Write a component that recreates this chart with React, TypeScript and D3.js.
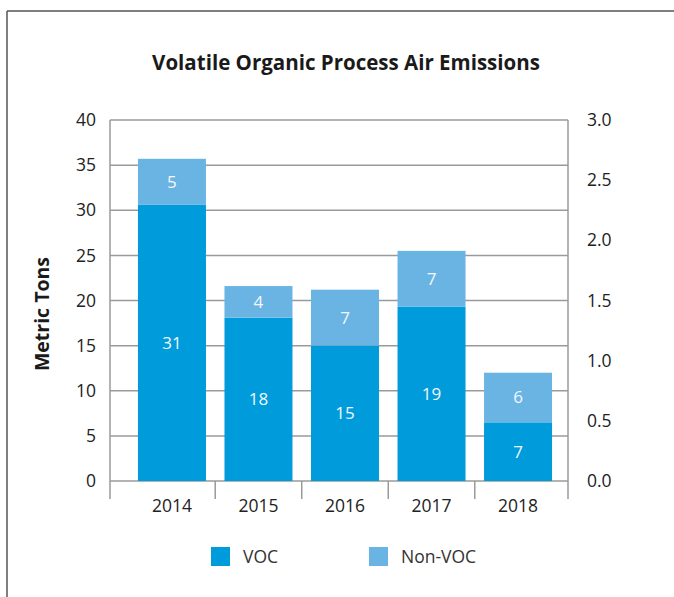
import React, { useEffect, useRef } from "react";
import * as d3 from "d3";

const years = ["2014", "2015", "2016", "2017", "2018"];
const vocValues = [30.6, 18.1, 15.0, 19.3, 6.5];
const nonVocValues = [5.1, 3.5, 6.2, 6.2, 5.5];
const vocLabels = ["31", "18", "15", "19", "7"];
const nonVocLabels = ["5", "4", "7", "7", "6"];
const leftTicks = [0, 5, 10, 15, 20, 25, 30, 35, 40];
const rightTicks = [0, 0.5, 1.0, 1.5, 2.0, 2.5, 3.0];
const seriesNames = ["VOC", "Non-VOC"];
const colors = ["#009bdb", "#6ab4e4"];

const FONT = "'Open Sans', 'Noto Sans', sans-serif";

export default function App() {
  const ref = useRef<SVGSVGElement>(null);

  useEffect(() => {
    var svg = d3.select(ref.current);
    svg.selectAll("*").remove();

    var plotLeft = 110;
    var plotRight = 568;
    var plotTop = 120;
    var plotBottom = 481;

    // outer frame (only top and left edges visible)
    svg.append("line")
      .attr("x1", 7).attr("y1", 11).attr("x2", 674).attr("y2", 11)
      .attr("stroke", "#555").attr("stroke-width", 1.5);
    svg.append("line")
      .attr("x1", 7).attr("y1", 11).attr("x2", 7).attr("y2", 597)
      .attr("stroke", "#555").attr("stroke-width", 1.5);

    svg.append("text")
      .text("Volatile Organic Process Air Emissions")
      .attr("x", 346)
      .attr("y", 70)
      .attr("text-anchor", "middle")
      .attr("font-family", FONT)
      .attr("font-weight", "bold")
      .attr("font-size", 20.5)
      .attr("fill", "#1a1a1a");

    var y = d3.scaleLinear().domain([0, 40]).range([plotBottom, plotTop]);
    var y2 = d3.scaleLinear().domain([0, 3]).range([plotBottom, plotTop]);
    var x = d3.scaleBand().domain(years).range([128.7, 561.3]).paddingInner(0.214).paddingOuter(0.107);

    // gridlines
    svg.append("g").selectAll("line").data(leftTicks).enter().append("line")
      .attr("x1", plotLeft).attr("x2", plotRight)
      .attr("y1", d => y(d)).attr("y2", d => y(d))
      .attr("stroke", "#9a9a9a").attr("stroke-width", 1.5);

    // axis lines
    svg.append("line")
      .attr("x1", plotLeft).attr("x2", plotLeft).attr("y1", plotTop).attr("y2", plotBottom + 18)
      .attr("stroke", "#9a9a9a").attr("stroke-width", 1.5);
    svg.append("line")
      .attr("x1", plotRight).attr("x2", plotRight).attr("y1", plotTop).attr("y2", plotBottom + 18)
      .attr("stroke", "#9a9a9a").attr("stroke-width", 1.5);

    // category separators
    var step = x.step();
    svg.append("g").selectAll("line").data(years.slice(1)).enter().append("line")
      .attr("x1", d => (x(d) as number) - (step - x.bandwidth()) / 2)
      .attr("x2", d => (x(d) as number) - (step - x.bandwidth()) / 2)
      .attr("y1", plotBottom).attr("y2", plotBottom + 18)
      .attr("stroke", "#9a9a9a").attr("stroke-width", 1.5);

    // bars
    var stacked = years.map((yr, i) => ({
      year: yr,
      parts: [
        { y0: 0, y1: vocValues[i], label: vocLabels[i], c: 0 },
        { y0: vocValues[i], y1: vocValues[i] + nonVocValues[i], label: nonVocLabels[i], c: 1 }
      ]
    }));
    var groups = svg.append("g").selectAll("g").data(stacked).enter().append("g");
    groups.selectAll("rect").data(d => d.parts.map(p => ({ ...p, year: d.year }))).enter().append("rect")
      .attr("x", d => x(d.year) as number)
      .attr("width", x.bandwidth())
      .attr("y", d => y(d.y1))
      .attr("height", d => y(d.y0) - y(d.y1))
      .attr("fill", d => colors[d.c]);
    groups.selectAll("text").data(d => d.parts.map(p => ({ ...p, year: d.year }))).enter().append("text")
      .text(d => d.label)
      .attr("x", d => (x(d.year) as number) + x.bandwidth() / 2)
      .attr("y", d => (y(d.y0) + y(d.y1)) / 2)
      .attr("dy", "0.35em")
      .attr("text-anchor", "middle")
      .attr("font-family", FONT)
      .attr("font-size", 17)
      .attr("fill", "#f2f8fc");

    // left tick labels
    svg.append("g").selectAll("text").data(leftTicks).enter().append("text")
      .text(d => d)
      .attr("x", 96).attr("y", d => y(d)).attr("dy", "0.35em")
      .attr("text-anchor", "end")
      .attr("font-family", FONT).attr("font-size", 17.5).attr("fill", "#222");

    // right tick labels
    svg.append("g").selectAll("text").data(rightTicks).enter().append("text")
      .text(d => d3.format(".1f")(d))
      .attr("x", 587).attr("y", d => y2(d)).attr("dy", "0.35em")
      .attr("text-anchor", "start")
      .attr("font-family", FONT).attr("font-size", 17.5).attr("fill", "#222");

    // x labels
    svg.append("g").selectAll("text").data(years).enter().append("text")
      .text(d => d)
      .attr("x", d => (x(d) as number) + x.bandwidth() / 2)
      .attr("y", 506).attr("dy", "0.35em")
      .attr("text-anchor", "middle")
      .attr("font-family", FONT).attr("font-size", 17.5).attr("fill", "#222");

    // y axis title
    svg.append("text")
      .text("Metric Tons")
      .attr("transform", "translate(42,314) rotate(-90)")
      .attr("dy", "0.35em")
      .attr("text-anchor", "middle")
      .attr("font-family", FONT).attr("font-weight", "bold").attr("font-size", 19.5).attr("fill", "#1a1a1a");

    // legend
    var legendX = [211, 369];
    var legend = svg.append("g").selectAll("g").data(seriesNames).enter().append("g")
      .attr("transform", (d, i) => "translate(" + legendX[i] + ",547)");
    legend.append("rect")
      .attr("width", 19).attr("height", 19)
      .attr("fill", (d, i) => colors[i]);
    legend.append("text")
      .text(d => d)
      .attr("x", 32).attr("y", 10).attr("dy", "0.35em")
      .attr("font-family", FONT).attr("font-size", 17.5).attr("fill", "#333");
  }, []);

  return (
    <svg
      ref={ref}
      width={674}
      height={597}
      style={{ position: "absolute", left: 0, top: 0, background: "#fff" }}
    />
  );
}
